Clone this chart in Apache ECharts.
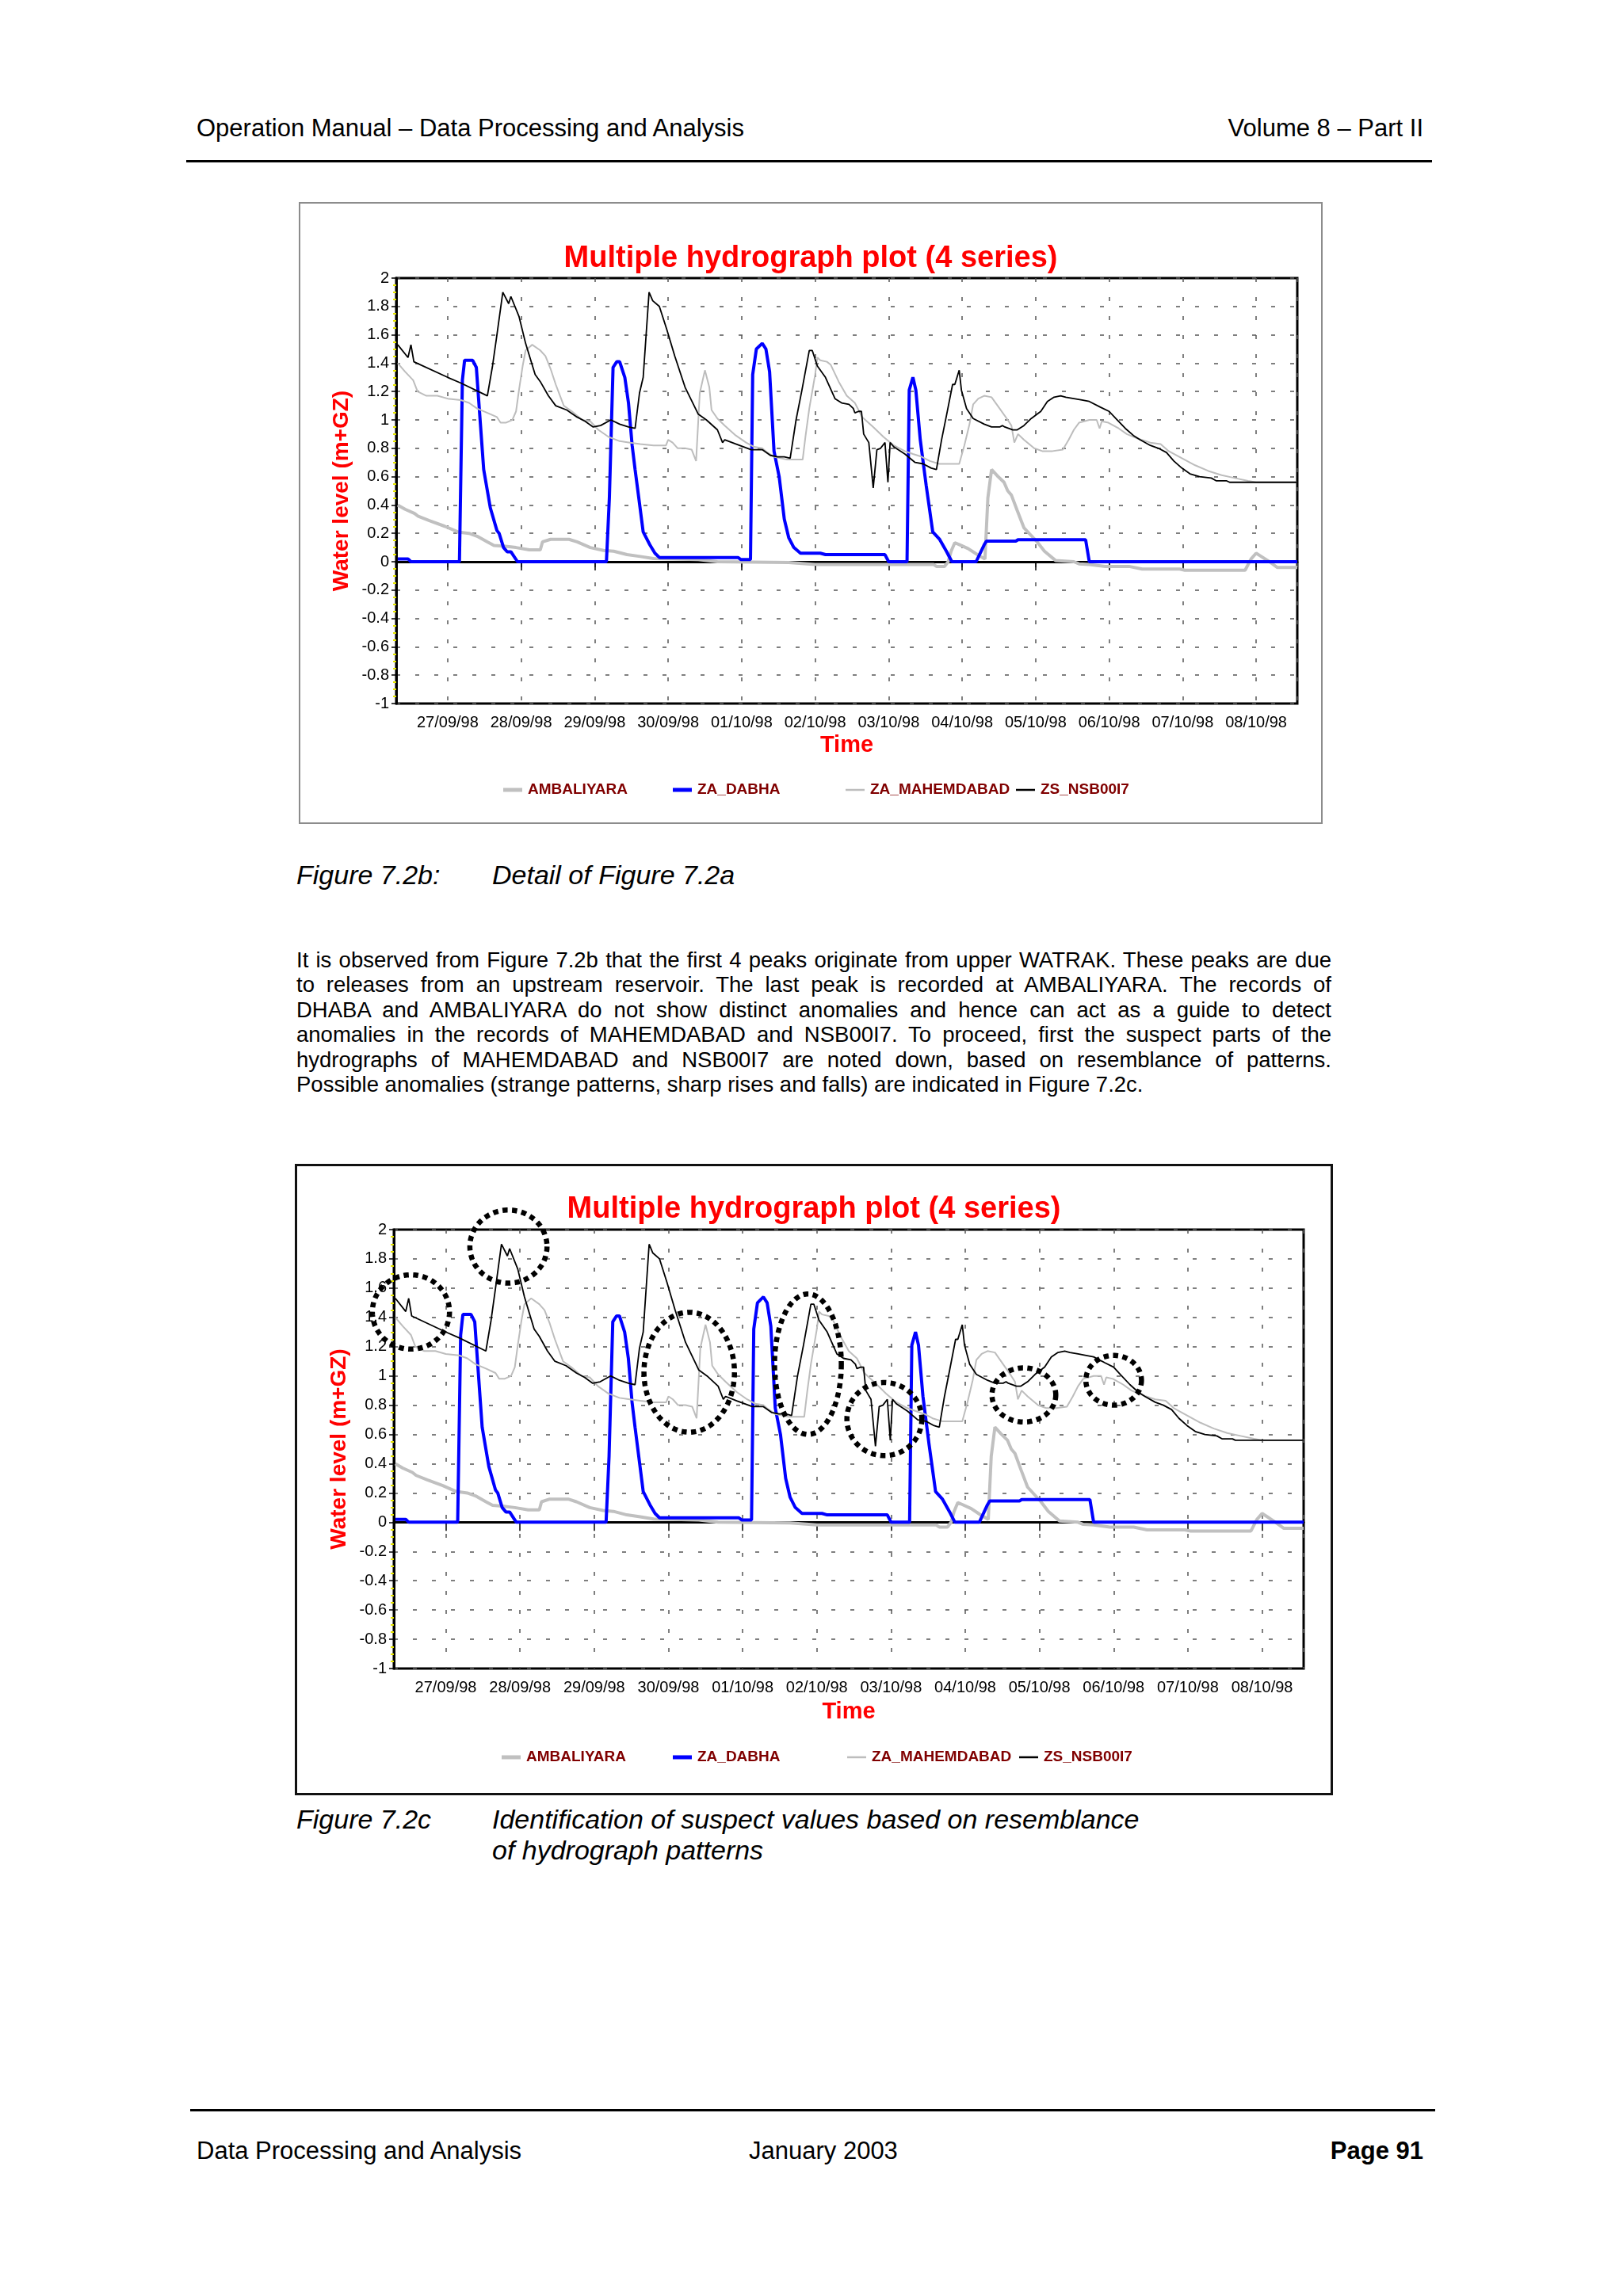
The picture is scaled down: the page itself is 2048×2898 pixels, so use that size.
<!DOCTYPE html>
<html><head><meta charset="utf-8">
<script src="https://cdn.jsdelivr.net/npm/echarts@6/dist/echarts.min.js"></script>
<style>
html,body{margin:0;padding:0;background:#fff;}
body{width:2048px;height:2898px;position:relative;font-family:'Liberation Sans',Arial,sans-serif;color:#000;overflow:hidden;}
.t{position:absolute;white-space:nowrap;line-height:1;}
.rule{position:absolute;background:#000;}
.pl{position:absolute;left:374px;width:1306px;font-size:27.5px;line-height:1;white-space:nowrap;text-align:justify;text-align-last:justify;}
.pl.last{text-align-last:left;}
.frame{position:absolute;box-sizing:border-box;pointer-events:none;}
.chart{position:absolute;}
</style></head><body>

<div class="t" style="left:248px;top:146px;font-size:31px;">Operation Manual – Data Processing and Analysis</div>
<div class="t" style="right:252px;top:146px;font-size:31px;">Volume 8 – Part II</div>
<div class="rule" style="left:235px;top:202px;width:1572px;height:3px;"></div>

<div class="frame" style="left:377px;top:255px;width:1292px;height:785px;border:2px solid #8c8c8c;"></div>
<div id="c1" class="chart" style="left:377px;top:255px;width:1292px;height:785px;"></div>

<div class="t" style="left:374px;top:1087px;font-size:34px;font-style:italic;">Figure 7.2b:</div>
<div class="t" style="left:621px;top:1087px;font-size:34px;font-style:italic;">Detail of Figure 7.2a</div>

<div class="pl" style="top:1198px;">It is observed from Figure 7.2b that the first 4 peaks originate from upper WATRAK. These peaks are due</div>
<div class="pl" style="top:1229px;">to releases from an upstream reservoir. The last peak is recorded at AMBALIYARA. The records of</div>
<div class="pl" style="top:1261px;">DHABA and AMBALIYARA do not show distinct anomalies and hence can act as a guide to detect</div>
<div class="pl" style="top:1292px;">anomalies in the records of MAHEMDABAD and NSB00I7. To proceed, first the suspect parts of the</div>
<div class="pl" style="top:1324px;">hydrographs of MAHEMDABAD and NSB00I7 are noted down, based on resemblance of patterns.</div>
<div class="pl last" style="top:1355px;">Possible anomalies (strange patterns, sharp rises and falls) are indicated in Figure 7.2c.</div>

<div class="frame" style="left:372px;top:1469px;width:1310px;height:797px;border:3px solid #111;"></div>
<div id="c2" class="chart" style="left:372px;top:1469px;width:1310px;height:797px;"></div>

<div class="t" style="left:374px;top:2279px;font-size:34px;font-style:italic;">Figure 7.2c</div>
<div class="t" style="left:621px;top:2279px;font-size:34px;font-style:italic;">Identification of suspect values based on resemblance</div>
<div class="t" style="left:621px;top:2318px;font-size:34px;font-style:italic;">of hydrograph patterns</div>

<div class="rule" style="left:240px;top:2662px;width:1571px;height:3px;"></div>
<div class="t" style="left:248px;top:2699px;font-size:31px;">Data Processing and Analysis</div>
<div class="t" style="left:945px;top:2699px;font-size:31px;">January 2003</div>
<div class="t" style="right:252px;top:2699px;font-size:31px;font-weight:bold;">Page 91</div>

<script>
// ---- data: [days since 27/09/1998 00:00, water level (m+GZ)] ----
const SERIES_NAMES = ['AMBALIYARA', 'ZA_DABHA', 'ZA_MAHEMDABAD', 'ZS_NSB00I7'];
const X_START_DAY = -0.70, X_END_DAY = 11.56;
const Y_MIN = -1, Y_MAX = 2, Y_STEP = 0.2;

const AMBALIYARA = [[-0.68,0.40],[-0.58,0.37],[-0.45,0.34],[-0.40,0.32],[-0.25,0.29],[-0.04,0.25],[0.14,0.21],[0.29,0.20],[0.40,0.18],[0.54,0.14],[0.63,0.115],[0.76,0.11],[0.93,0.10],[1.11,0.084],[1.26,0.084],[1.29,0.14],[1.40,0.158],[1.65,0.158],[1.76,0.14],[1.94,0.10],[2.12,0.08],[2.26,0.074],[2.44,0.05],[2.62,0.037],[2.80,0.022],[3.06,0.019],[3.41,0.015],[3.67,0.00],[4.64,-0.005],[5.00,-0.019],[6.61,-0.019],[6.65,-0.033],[6.76,-0.033],[6.81,0.00],[6.85,0.074],[6.90,0.134],[6.96,0.121],[7.08,0.093],[7.19,0.056],[7.31,0.019],[7.35,0.45],[7.40,0.65],[7.48,0.605],[7.57,0.56],[7.62,0.50],[7.67,0.47],[7.75,0.36],[7.84,0.24],[7.93,0.19],[8.02,0.14],[8.12,0.074],[8.27,0.009],[8.52,0.00],[8.59,-0.015],[8.73,-0.019],[8.95,-0.033],[9.27,-0.033],[9.45,-0.052],[9.96,-0.052],[10.03,-0.06],[10.85,-0.06],[10.93,0.019],[11.00,0.06],[11.07,0.037],[11.18,0.00],[11.29,-0.041],[11.56,-0.041]];

const ZA_DABHA = [[-0.68,0.02],[-0.54,0.02],[-0.50,0.00],[0.16,0.00],[0.20,1.28],[0.23,1.42],[0.34,1.42],[0.39,1.37],[0.43,1.08],[0.49,0.65],[0.58,0.38],[0.67,0.22],[0.70,0.20],[0.76,0.10],[0.81,0.07],[0.86,0.07],[0.95,0.00],[2.16,0.00],[2.20,0.45],[2.25,1.37],[2.30,1.41],[2.34,1.41],[2.41,1.30],[2.46,1.12],[2.51,0.82],[2.55,0.65],[2.61,0.41],[2.66,0.21],[2.75,0.12],[2.82,0.06],[2.88,0.03],[3.95,0.03],[3.99,0.015],[4.12,0.015],[4.15,1.32],[4.20,1.50],[4.28,1.54],[4.33,1.50],[4.38,1.34],[4.44,0.78],[4.51,0.60],[4.58,0.30],[4.64,0.17],[4.71,0.10],[4.80,0.06],[5.07,0.06],[5.14,0.05],[5.95,0.05],[6.00,0.00],[6.25,0.00],[6.28,1.21],[6.33,1.30],[6.37,1.21],[6.43,0.86],[6.51,0.54],[6.60,0.21],[6.69,0.16],[6.79,0.07],[6.86,0.00],[7.19,0.00],[7.30,0.12],[7.33,0.145],[7.73,0.145],[7.76,0.155],[8.68,0.155],[8.73,0.00],[11.56,0.00]];

const ZA_MAHEMDABAD = [[-0.68,1.40],[-0.58,1.34],[-0.47,1.28],[-0.41,1.20],[-0.29,1.17],[-0.14,1.17],[0.00,1.15],[0.18,1.14],[0.29,1.12],[0.40,1.08],[0.54,1.05],[0.67,1.02],[0.72,0.98],[0.79,0.98],[0.88,1.00],[0.93,1.06],[0.97,1.21],[1.02,1.38],[1.06,1.49],[1.15,1.53],[1.26,1.49],[1.33,1.45],[1.40,1.36],[1.47,1.25],[1.58,1.10],[1.69,1.06],[1.83,1.00],[1.94,0.99],[2.05,0.93],[2.19,0.88],[2.34,0.85],[2.48,0.84],[2.62,0.83],[2.80,0.82],[2.97,0.82],[3.00,0.86],[3.06,0.84],[3.13,0.80],[3.23,0.80],[3.32,0.79],[3.38,0.71],[3.43,1.19],[3.50,1.35],[3.56,1.23],[3.59,1.07],[3.67,1.01],[3.77,0.96],[3.92,0.89],[4.06,0.84],[4.17,0.81],[4.28,0.80],[4.35,0.77],[4.44,0.74],[4.62,0.72],[4.83,0.72],[4.87,0.89],[4.92,1.08],[5.00,1.32],[5.03,1.44],[5.07,1.42],[5.16,1.41],[5.21,1.39],[5.32,1.27],[5.43,1.17],[5.54,1.12],[5.64,1.02],[5.79,0.95],[5.93,0.88],[6.07,0.82],[6.22,0.78],[6.33,0.76],[6.45,0.74],[6.56,0.71],[6.69,0.69],[6.96,0.69],[7.03,0.82],[7.10,0.97],[7.15,1.11],[7.22,1.15],[7.30,1.17],[7.40,1.16],[7.51,1.08],[7.62,1.00],[7.67,0.96],[7.71,0.84],[7.76,0.90],[7.84,0.86],[7.98,0.80],[8.09,0.78],[8.23,0.78],[8.37,0.79],[8.45,0.86],[8.52,0.93],[8.59,0.98],[8.73,1.00],[8.83,1.00],[8.87,0.94],[8.90,0.99],[8.99,0.98],[9.13,0.94],[9.24,0.90],[9.38,0.87],[9.56,0.84],[9.70,0.83],[9.81,0.78],[9.99,0.73],[10.17,0.68],[10.35,0.64],[10.53,0.61],[10.71,0.59],[10.89,0.57],[11.00,0.56],[11.56,0.56]];

const ZS_NSB00I7 = [[-0.68,1.53],[-0.54,1.44],[-0.50,1.53],[-0.46,1.41],[0.00,1.30],[0.18,1.26],[0.54,1.17],[0.61,1.38],[0.67,1.60],[0.75,1.90],[0.83,1.82],[0.86,1.87],[0.97,1.73],[1.06,1.54],[1.19,1.32],[1.26,1.27],[1.37,1.17],[1.47,1.10],[1.62,1.07],[1.76,1.02],[1.87,0.99],[1.98,0.95],[2.08,0.96],[2.22,1.00],[2.34,0.97],[2.46,0.95],[2.55,0.94],[2.61,1.19],[2.66,1.30],[2.74,1.90],[2.79,1.84],[2.88,1.80],[2.98,1.64],[3.09,1.45],[3.23,1.23],[3.41,1.04],[3.52,1.00],[3.67,0.93],[3.74,0.84],[3.77,0.86],[3.92,0.83],[4.13,0.79],[4.28,0.79],[4.39,0.75],[4.49,0.74],[4.58,0.74],[4.66,0.73],[4.74,1.00],[4.82,1.21],[4.92,1.49],[4.96,1.49],[5.03,1.38],[5.14,1.30],[5.27,1.15],[5.36,1.12],[5.46,1.11],[5.52,1.08],[5.54,1.05],[5.59,1.06],[5.63,1.06],[5.66,0.90],[5.73,0.84],[5.79,0.52],[5.84,0.79],[5.89,0.80],[5.95,0.84],[5.99,0.56],[6.02,0.84],[6.07,0.81],[6.22,0.76],[6.36,0.70],[6.47,0.69],[6.58,0.66],[6.65,0.65],[6.72,0.86],[6.79,1.04],[6.87,1.25],[6.90,1.25],[6.96,1.35],[6.99,1.21],[7.06,1.08],[7.15,1.01],[7.30,0.97],[7.40,0.95],[7.51,0.95],[7.55,0.96],[7.58,0.95],[7.69,0.93],[7.75,0.93],[7.84,0.96],[7.94,1.01],[8.07,1.06],[8.16,1.13],[8.25,1.16],[8.34,1.17],[8.41,1.16],[8.52,1.15],[8.63,1.14],[8.73,1.13],[8.88,1.09],[9.00,1.06],[9.09,1.01],[9.22,0.94],[9.33,0.89],[9.42,0.86],[9.56,0.82],[9.67,0.80],[9.78,0.77],[9.88,0.71],[9.99,0.66],[10.10,0.62],[10.23,0.60],[10.39,0.59],[10.46,0.57],[10.60,0.57],[10.64,0.56],[11.56,0.56]];

// suspect regions in Figure 7.2c: [centre day, centre level, half-width days, half-height level]
const SUSPECT_ELLIPSES = [[-0.47,1.437,0.52,0.254],[0.844,1.884,0.52,0.25],[3.28,1.025,0.61,0.41],[4.88,1.08,0.45,0.48],[5.91,0.705,0.505,0.25],[7.79,0.87,0.43,0.185],[9.0,0.97,0.375,0.17]];

const BASE = Date.UTC(1998, 8, 27);
const DAY = 86400000;
const toTime = d => BASE + d * DAY;
const pts = arr => arr.map(p => [toTime(p[0]), p[1]]);

const FONT = "'Liberation Sans', Arial, sans-serif";
const pad = n => String(n).padStart(2, '0');
const fmtDate = v => { const d = new Date(v); return pad(d.getUTCDate()) + '/' + pad(d.getUTCMonth() + 1) + '/' + String(d.getUTCFullYear()).slice(2); };

const STYLES = {
  AMBALIYARA: {color: '#c0c0c0', width: 4},
  ZA_DABHA: {color: '#0000ff', width: 4},
  ZA_MAHEMDABAD: {color: '#bdbdbd', width: 2},
  ZS_NSB00I7: {color: '#000000', width: 1.8}
};
const DATA = {AMBALIYARA, ZA_DABHA, ZA_MAHEMDABAD, ZS_NSB00I7};

function buildOption(cfg) {
  const dash = {color: '#555', width: 1.5, type: [5, 19]};
  return {
    useUTC: true,
    animation: false,
    backgroundColor: 'transparent',
    textStyle: {fontFamily: FONT},
    title: {
      text: 'Multiple hydrograph plot (4 series)',
      left: 'center', top: cfg.titleTop,
      textStyle: {color: '#ff0000', fontWeight: 'bold', fontSize: 38, lineHeight: 38, fontFamily: FONT}
    },
    legend: SERIES_NAMES.map((n, i) => ({
      data: [{name: n, icon: 'rect'}], left: cfg.legendX[i], top: cfg.legendY - 11, padding: 0,
      itemWidth: 24, itemHeight: STYLES[n].width >= 3 ? 5 : 2.5, itemGap: 0, selectedMode: false,
      itemStyle: {color: STYLES[n].color, borderWidth: 0},
      textStyle: {color: '#800000', fontWeight: 'bold', fontSize: 19, lineHeight: 22, fontFamily: FONT, padding: [0, 0, 0, 2]}
    })),
    grid: {left: cfg.grid[0], top: cfg.grid[1], width: cfg.grid[2], height: cfg.grid[3],
      show: true, borderColor: '#000', borderWidth: 3, backgroundColor: 'transparent', containLabel: false},
    xAxis: {
      type: 'time', min: toTime(X_START_DAY), max: toTime(X_END_DAY),
      minInterval: DAY, maxInterval: DAY,
      name: 'Time', nameLocation: 'middle', nameGap: cfg.timeGap,
      nameTextStyle: {color: '#ff0000', fontWeight: 'bold', fontSize: 29, fontFamily: FONT},
      axisLine: {show: true, lineStyle: {color: '#000', width: 3}},
      axisTick: {show: true, length: 11, lineStyle: {color: '#000', width: 1.5}},
      axisLabel: {formatter: fmtDate, color: '#000', fontSize: 20, margin: 14, fontFamily: FONT,
        showMinLabel: false, showMaxLabel: false, hideOverlap: false},
      splitLine: {show: true, lineStyle: dash}
    },
    yAxis: {
      type: 'value', min: Y_MIN, max: Y_MAX, interval: Y_STEP,
      name: 'Water level (m+GZ)', nameLocation: 'middle', nameGap: cfg.yNameGap,
      nameTextStyle: {color: '#ff0000', fontWeight: 'bold', fontSize: 28, fontFamily: FONT},
      axisLine: {show: true, lineStyle: {color: '#000', width: 3}},
      axisTick: {show: true, length: 6, lineStyle: {color: '#000', width: 1.5}},
      minorTick: {show: true, splitNumber: 4, length: 4, lineStyle: {color: '#e6e600', width: 2}},
      axisLabel: {color: '#000', fontSize: 20, margin: 9, fontFamily: FONT},
      splitLine: {show: true, lineStyle: dash}
    },
    series: SERIES_NAMES.map(n => ({
      name: n, type: 'line', data: pts(DATA[n]), symbol: 'none', showSymbol: false,
      lineStyle: {color: STYLES[n].color, width: STYLES[n].width},
      itemStyle: {color: STYLES[n].color},
      emphasis: {disabled: true}, silent: true, clip: true
    }))
  };
}

const chart1 = echarts.init(document.getElementById('c1'), null, {renderer: 'canvas'});
chart1.setOption(buildOption({
  titleTop: 48, grid: [123, 96, 1137, 537], timeGap: 38, yNameGap: 55,
  legendX: [258, 472, 690, 905], legendY: 742
}));

const chart2 = echarts.init(document.getElementById('c2'), null, {renderer: 'canvas'});
chart2.setOption(buildOption({
  titleTop: 34, grid: [125, 83, 1148, 554], timeGap: 40, yNameGap: 55,
  legendX: [261, 477, 697, 914], legendY: 749
}));

// dotted ellipses marking suspect values, placed through the chart's own scales
const ellipseGraphics = SUSPECT_ELLIPSES.map(e => {
  const c = chart2.convertToPixel({xAxisIndex: 0, yAxisIndex: 0}, [toTime(e[0]), e[1]]);
  const r = chart2.convertToPixel({xAxisIndex: 0, yAxisIndex: 0}, [toTime(e[0] + e[2]), e[1] + e[3]]);
  const rx = Math.abs(r[0] - c[0]), ry = Math.abs(c[1] - r[1]);
  const points = [];
  for (let k = 0; k < 90; k++) {
    const a = k / 90 * Math.PI * 2;
    points.push([c[0] + rx * Math.cos(a), c[1] + ry * Math.sin(a)]);
  }
  return {type: 'polygon', z: 100, silent: true, shape: {points},
    style: {fill: 'none', stroke: '#000', lineWidth: 6.5, lineDash: [6.5, 5.5], lineCap: 'butt'}};
});
chart2.setOption({graphic: ellipseGraphics});
</script>
</body></html>
